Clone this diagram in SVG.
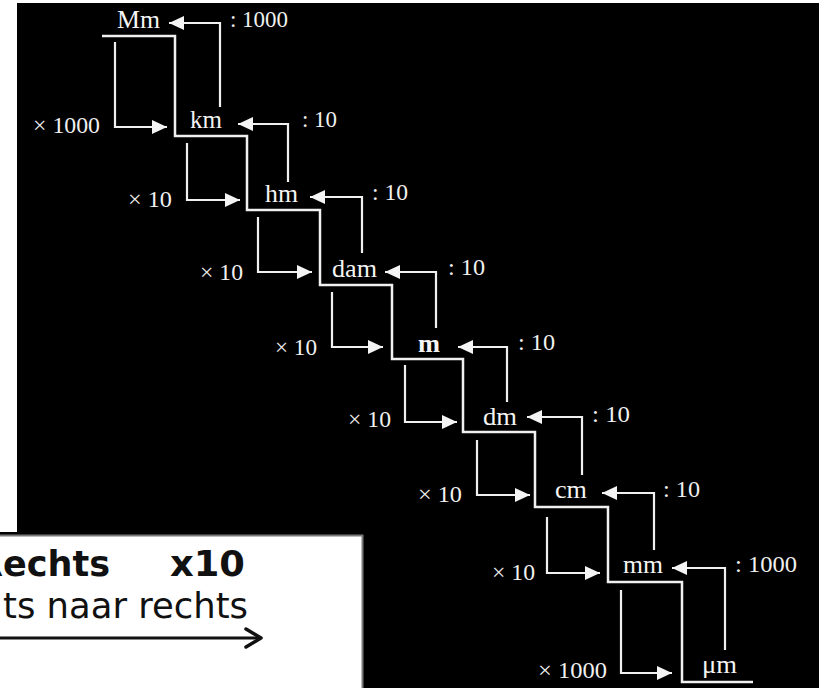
<svg xmlns="http://www.w3.org/2000/svg" width="823" height="688" viewBox="0 0 823 688">
<style>
.u{font-family:"Liberation Serif","Times New Roman",serif;font-size:25px;fill:#f4f4f4}
.op{font-family:"Liberation Serif","Times New Roman",serif;font-size:23px;fill:#f0f0f0}
.ln{fill:none;stroke:#f0f0f0;stroke-width:2.5;stroke-linejoin:miter}
.ar{fill:none;stroke:#f0f0f0;stroke-width:2.2;marker-end:url(#ah)}
.bx{font-family:"DejaVu Sans",Verdana,sans-serif;fill:#111}
</style>
<defs>
<marker id="ah" markerUnits="userSpaceOnUse" markerWidth="16" markerHeight="16" refX="15" refY="7" orient="auto">
<path d="M0,0 L15,7 L0,14 z" fill="#f4f4f4"/>
</marker>
<marker id="bh" markerUnits="userSpaceOnUse" markerWidth="22" markerHeight="26" refX="18" refY="11" orient="auto">
<path d="M3,2 L18,11 L3,20" fill="none" stroke="#111" stroke-width="3.5" stroke-linecap="round" stroke-linejoin="round"/>
</marker>
</defs>
<rect x="0" y="0" width="823" height="688" fill="#ffffff"/>
<rect x="17" y="3" width="802" height="685" fill="#000000"/>
<rect x="0" y="532" width="17" height="3" fill="#000000"/>

<g id="connectors">
<path class="ln" d="M102,36 H175 V136 H247 V210 H320 V285 H392 V359 H463 V432 H535 V507 H608 V582 H682 V682 H753"/>
<path class="ar" d="M115,42 V127 H167"/>
<path class="ar" d="M187,143 V200 H240"/>
<path class="ar" d="M258,217 V272 H312"/>
<path class="ar" d="M332,292 V347 H383"/>
<path class="ar" d="M405,365 V422 H457"/>
<path class="ar" d="M477,440 V495 H530"/>
<path class="ar" d="M547,517 V573 H600"/>
<path class="ar" d="M621,590 V673 H672"/>
<path class="ar" d="M220,107 V23 H169"/>
<path class="ar" d="M288,182 V124 H238"/>
<path class="ar" d="M362,253 V197 H310"/>
<path class="ar" d="M436,328 V272 H385"/>
<path class="ar" d="M507,402 V347 H458"/>
<path class="ar" d="M582,475 V417 H527"/>
<path class="ar" d="M654,550 V493 H602"/>
<path class="ar" d="M725,650 V568 H672"/>
</g>

<g id="connector-labels">
<text class="op" x="230" y="27" textLength="58" lengthAdjust="spacingAndGlyphs">: 1000</text>
<text class="op" x="33" y="133" textLength="67" lengthAdjust="spacingAndGlyphs">× 1000</text>
<text class="op" x="302" y="127" textLength="35" lengthAdjust="spacingAndGlyphs">: 10</text>
<text class="op" x="128" y="207" textLength="44" lengthAdjust="spacingAndGlyphs">× 10</text>
<text class="op" x="372" y="200" textLength="36" lengthAdjust="spacingAndGlyphs">: 10</text>
<text class="op" x="200" y="280" textLength="43" lengthAdjust="spacingAndGlyphs">× 10</text>
<text class="op" x="448" y="275" textLength="37" lengthAdjust="spacingAndGlyphs">: 10</text>
<text class="op" x="275" y="355" textLength="42" lengthAdjust="spacingAndGlyphs">× 10</text>
<text class="op" x="518" y="350" textLength="37" lengthAdjust="spacingAndGlyphs">: 10</text>
<text class="op" x="348" y="427" textLength="43" lengthAdjust="spacingAndGlyphs">× 10</text>
<text class="op" x="592" y="422" textLength="38" lengthAdjust="spacingAndGlyphs">: 10</text>
<text class="op" x="418" y="502" textLength="44" lengthAdjust="spacingAndGlyphs">× 10</text>
<text class="op" x="663" y="497" textLength="37" lengthAdjust="spacingAndGlyphs">: 10</text>
<text class="op" x="492" y="580" textLength="43" lengthAdjust="spacingAndGlyphs">× 10</text>
<text class="op" x="735" y="572" textLength="62" lengthAdjust="spacingAndGlyphs">: 1000</text>
<text class="op" x="538" y="678" textLength="69" lengthAdjust="spacingAndGlyphs">× 1000</text>
</g>

<g id="node-Mm"><text class="u" x="117" y="28" textLength="43" lengthAdjust="spacingAndGlyphs">Mm</text></g>
<g id="node-km"><text class="u" x="190" y="128" textLength="32" lengthAdjust="spacingAndGlyphs">km</text></g>
<g id="node-hm"><text class="u" x="265" y="202" textLength="33" lengthAdjust="spacingAndGlyphs">hm</text></g>
<g id="node-dam"><text class="u" x="332" y="277" textLength="45" lengthAdjust="spacingAndGlyphs">dam</text></g>
<g id="node-m"><text class="u" x="418" y="352" font-weight="bold" textLength="22" lengthAdjust="spacingAndGlyphs">m</text></g>
<g id="node-dm"><text class="u" x="483" y="425" textLength="34" lengthAdjust="spacingAndGlyphs">dm</text></g>
<g id="node-cm"><text class="u" x="555" y="498" textLength="32" lengthAdjust="spacingAndGlyphs">cm</text></g>
<g id="node-mm"><text class="u" x="623" y="573" textLength="40" lengthAdjust="spacingAndGlyphs">mm</text></g>
<g id="node-um"><text class="u" x="702" y="673" textLength="35" lengthAdjust="spacingAndGlyphs">μm</text></g>

<g id="legend-box">
<rect x="0" y="535" width="362" height="153" fill="#ffffff"/>
<path d="M0,535.5 H362.5 V688" fill="none" stroke="#7a7a7a" stroke-width="2"/>
<text class="bx" x="-24" y="576" font-size="35" font-weight="bold" textLength="134" lengthAdjust="spacingAndGlyphs">Rechts</text>
<text class="bx" x="170" y="576" font-size="35" font-weight="bold" textLength="75" lengthAdjust="spacingAndGlyphs">x10</text>
<text class="bx" x="3" y="618" font-size="35" textLength="245" lengthAdjust="spacingAndGlyphs">ts naar rechts</text>
<path d="M-5,638 H261" fill="none" stroke="#111" stroke-width="3" marker-end="url(#bh)"/>
</g>
</svg>
